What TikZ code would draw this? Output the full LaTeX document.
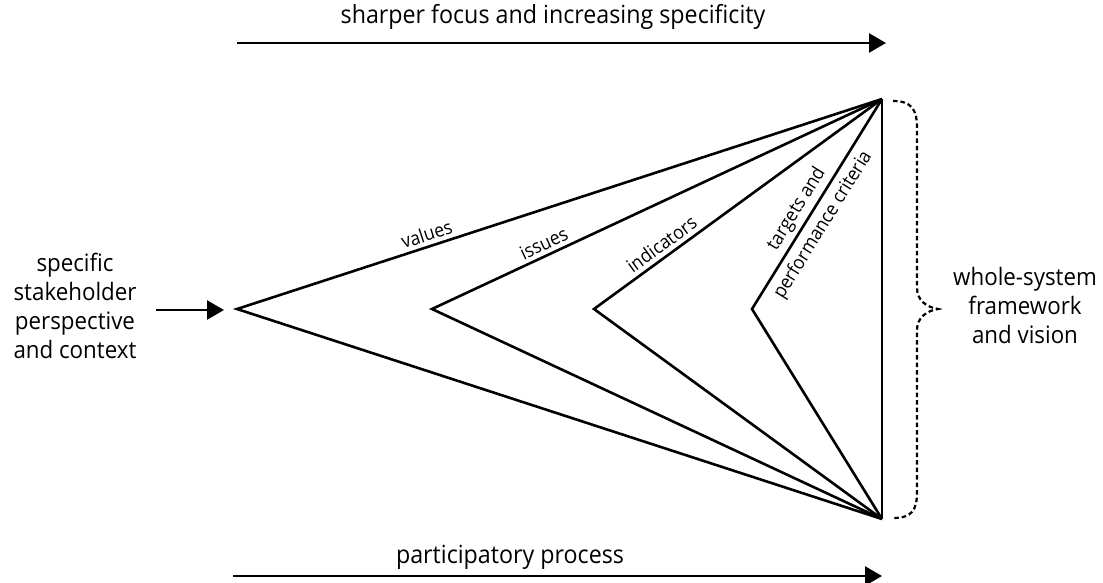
\documentclass[tikz,border=0pt]{standalone}
\usepackage{fontspec}
\setmainfont{Open Sans}[FakeStretch=0.93]
\usetikzlibrary{arrows.meta}
\tikzset{
  lw/.style={line width=2.6pt},
  arr/.style={lw, -{Triangle[length=17pt,width=19pt]}},
  bigtxt/.style={font=\fontsize{25}{29}\selectfont, inner sep=0pt},
  sidetxt/.style={font=\fontsize{24}{29}\selectfont, align=center, inner sep=0pt},
  lblfont/.style={font=\fontsize{19}{25}\selectfont},
  lbl/.style={lblfont, sloped, above, inner sep=4pt},
  fan/.style={lw, line join=miter},
  bracestyle/.style={line width=2.2pt, dash pattern=on 4.5pt off 3pt}
}
\begin{document}
\begin{tikzpicture}[x=1pt,y=-1pt]
\useasboundingbox (0,0) rectangle (1103,582);
% key points
\coordinate (T) at (882,99);
\coordinate (B) at (882,519);
\coordinate (V1) at (237,309);
\coordinate (V2) at (432,309);
\coordinate (V3) at (594,309);
\coordinate (V4) at (752,309);
\coordinate (topS) at (237,43);
\coordinate (topE) at (886,43);
\coordinate (botS) at (233,576);
\coordinate (botE) at (882,576);
\coordinate (inS) at (156,310);
\coordinate (inE) at (224,310);

% top and bottom arrows
\node[bigtxt, anchor=base] (toptxt) at (553,23) {sharper focus and increasing specificity};
\draw[arr] (topS) -- (topE);
\node[bigtxt, anchor=base] (bottxt) at (510,563) {participatory process};
\draw[arr] (botS) -- (botE);

% side texts
\node[sidetxt] (left) at (75,306) {specific\\stakeholder\\perspective\\and context};
\draw[arr] (inS) -- (inE);
\node[sidetxt] (right) at (1025,305) {whole-system\\framework\\and vision};

% fans
\draw[fan] (B) -- (V1) -- node[lbl, pos=0.30] {values} (T);
\draw[fan] (B) -- (V2) -- node[lbl, pos=0.26] {issues} (T);
\draw[fan] (B) -- (V3) -- node[lbl, pos=0.26] {indicators} (T);
\draw[fan] (B) -- (V4) -- node[lblfont, sloped, align=center, pos=0.44, yshift=-1pt] {targets and\\[6pt]performance criteria} (T);
\draw[lw] (T) -- (B);

% brace
\draw[bracestyle] (893,101) .. controls (912,101) and (917,110) .. (917,128) -- (917,288)
  .. controls (917,300) and (926,307) .. (938,309)
  .. controls (926,311) and (917,318) .. (917,330) -- (917,492)
  .. controls (917,510) and (912,518) .. (893,518);
\end{tikzpicture}
\end{document}
